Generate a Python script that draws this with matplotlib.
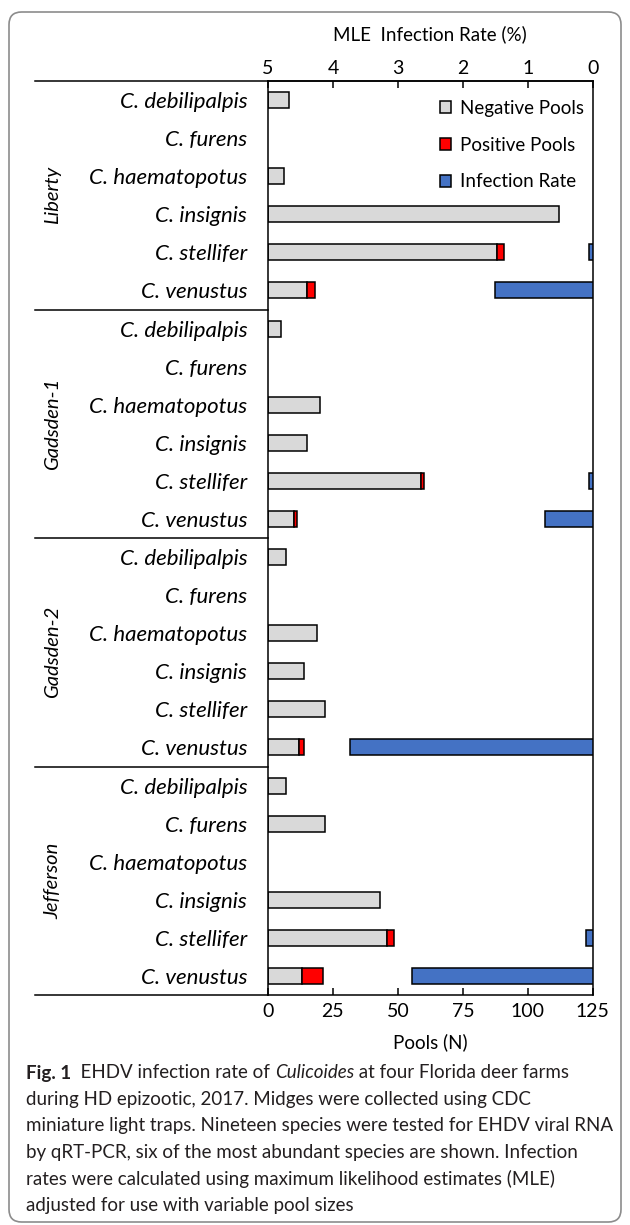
import matplotlib
matplotlib.use('Agg')
import numpy as np
from matplotlib import pyplot as plt
from matplotlib.patches import FancyBboxPatch, Patch

plt.rcParams['font.family'] = ['Lato', 'DejaVu Sans']

sites = ['Liberty', 'Gadsden-1', 'Gadsden-2', 'Jefferson']
species = ['C. debilipalpis', 'C. furens', 'C. haematopotus',
           'C. insignis', 'C. stellifer', 'C. venustus']

# pools (N), site by site in the order of species
neg_pools = [8, 0, 6, 112, 88, 15,
             5, 0, 20, 15, 59, 10,
             7, 0, 19, 14, 22, 12,
             7, 22, 0, 43, 46, 13]
pos_pools = [0, 0, 0, 0, 3, 3,
             0, 0, 0, 0, 1, 1,
             0, 0, 0, 0, 0, 2,
             0, 0, 0, 0, 2.5, 8]
# MLE infection rate (%)
mle_rate = [0, 0, 0, 0, 0.06, 1.5,
            0, 0, 0, 0, 0.06, 0.74,
            0, 0, 0, 0, 0, 3.74,
            0, 0, 0, 0, 0.11, 2.78]

pool_ticks = [0, 25, 50, 75, 100, 125]
rate_ticks = [5, 4, 3, 2, 1, 0]

c_neg = '#d9d9d9'
c_pos = '#ff0000'
c_rate = '#4472c4'
lw = 1.1

W, H = 630, 1225
fig = plt.figure(figsize=(W/100, H/100), dpi=100)
x0, x1, y0, y1 = 268, 592.7, 81, 995
ax = fig.add_axes([x0/W, 1-y1/H, (x1-x0)/W, (y1-y0)/H])

labels = species*len(sites)
y = np.arange(len(labels))
neg = np.array(neg_pools, float)
pos = np.array(pos_pools, float)
rate = np.array(mle_rate, float)
bh = 0.42

# skip empty bars so no zero-width outlines are drawn
m = neg > 0
ax.barh(y[m], neg[m], height=bh, color=c_neg, edgecolor='black', lw=lw)
m = pos > 0
ax.barh(y[m], pos[m], left=neg[m], height=bh, color=c_pos, edgecolor='black', lw=lw)
ax.set_xlim(0, 125)
ax.set_ylim(len(labels)-0.5, -0.5)
ax.set_xticks(pool_ticks)
ax.set_yticks(y)
ax.set_yticklabels(labels, fontstyle='italic', fontsize=16)
ax.tick_params(axis='y', length=0, pad=15)
ax.tick_params(axis='x', direction='in', length=5, width=lw, pad=6, labelsize=14)
ax.set_xlabel('Pools (N)', fontsize=13.5, labelpad=9)

ax2 = ax.twiny()
m = rate > 0
ax2.barh(y[m], rate[m], height=bh, color=c_rate, edgecolor='black', lw=lw)
ax2.set_xlim(5, 0)
ax2.set_xticks(rate_ticks)
ax2.tick_params(axis='x', direction='in', length=5, width=lw, pad=3, labelsize=14)
ax2.set_xlabel('MLE  Infection Rate (%)', fontsize=13.5, labelpad=14)

for a in (ax, ax2):
    for s in a.spines.values():
        s.set_linewidth(lw)
for s in ['bottom', 'left', 'right']:
    ax2.spines[s].set_visible(False)

# group separators and extended axis lines
xl = (35-x0)/(x1-x0)
trans = ax.get_yaxis_transform()
for k in range(len(sites)+1):
    yy = k*len(species) - 0.5
    ax.plot([xl, 0], [yy, yy], color='black', lw=lw, transform=trans, clip_on=False)
for k, site in enumerate(sites):
    ax.text((53-x0)/(x1-x0), k*len(species) + 2.5, site, transform=trans,
            rotation=90, ha='center', va='center', fontstyle='italic', fontsize=14.5)

handles = [Patch(facecolor=c_neg, edgecolor='black', lw=lw),
           Patch(facecolor=c_pos, edgecolor='black', lw=lw),
           Patch(facecolor=c_rate, edgecolor='black', lw=lw)]
ax2.legend(handles, ['Negative Pools', 'Positive Pools', 'Infection Rate'],
           loc='upper left', bbox_to_anchor=((440-x0)/(x1-x0), 1-(100-y0)/(y1-y0)),
           frameon=False, fontsize=13.5, handlelength=0.6, handleheight=0.6,
           handletextpad=0.45, labelspacing=1.05, borderpad=0, borderaxespad=0)

# caption
cap_x = 26
cap_lines = ['during HD epizootic, 2017. Midges were collected using CDC',
             'miniature light traps. Nineteen species were tested for EHDV viral RNA',
             'by qRT-PCR, six of the most abundant species are shown. Infection',
             'rates were calculated using maximum likelihood estimates (MLE)',
             'adjusted for use with variable pool sizes']
cap_fs = 13.5
cap_col = '#231f20'
first = [('Fig. 1', 'bold', 'normal'), ('  EHDV infection rate of ', 'normal', 'normal'),
         ('Culicoides', 'normal', 'italic'), (' at four Florida deer farms', 'normal', 'normal')]
fig.canvas.draw()
r = fig.canvas.get_renderer()
xp = cap_x
for txt, wt, st in first:
    t = fig.text(xp/W, 1-1073/H, txt, fontsize=cap_fs, fontweight=wt, fontstyle=st,
                 va='center', ha='left', color=cap_col)
    xp += t.get_window_extent(r).width
for i, line in enumerate(cap_lines):
    fig.text(cap_x/W, 1-(1073+26.5*(i+1))/H, line, fontsize=cap_fs,
             va='center', ha='left', color=cap_col)

box = FancyBboxPatch((9/W, 1-1222/H), 612/W, 1210/H,
                     boxstyle='round,pad=0,rounding_size=0.02',
                     transform=fig.transFigure, fill=False,
                     edgecolor='#8c8c8c', lw=1.2, mutation_aspect=W/H)
fig.patches.append(box)

fig.savefig('out.png', dpi=100)
